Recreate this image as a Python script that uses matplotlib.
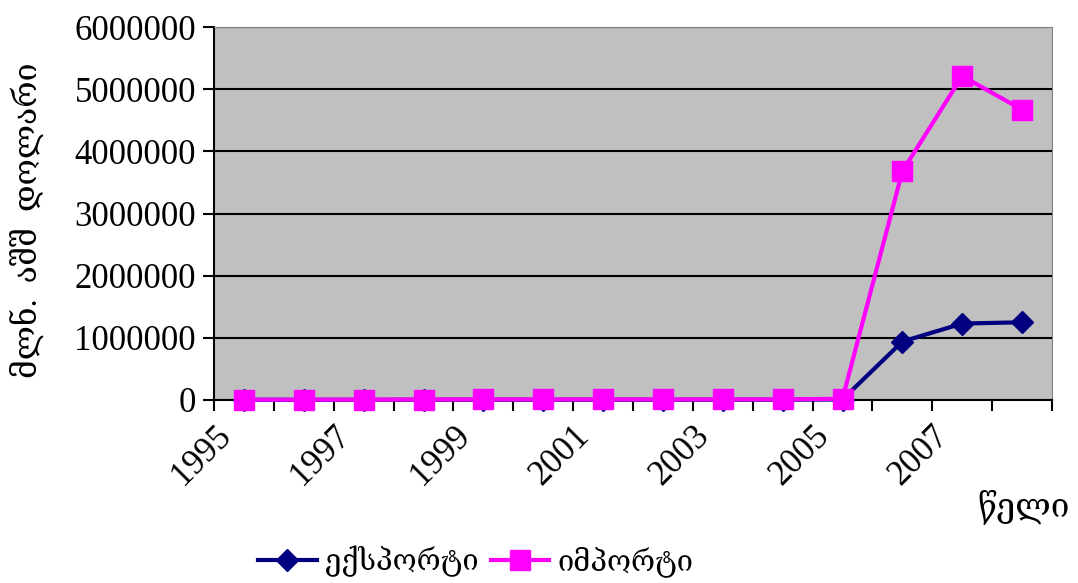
import matplotlib
matplotlib.use("Agg")
import matplotlib.pyplot as plt
import numpy as np

years = [1995, 1996, 1997, 1998, 1999, 2000, 2001, 2002, 2003, 2004, 2005, 2006, 2007, 2008]
export_vals = [3000, 3000, 3000, 4000, 4000, 4000, 4000, 4000, 4000, 5000, 8000, 940000, 1230000, 1250000]
import_vals = [5000, 5000, 6000, 8000, 9000, 9000, 9000, 9000, 9000, 10000, 20000, 3680000, 5210000, 4670000]
y_ticks = [0, 1000000, 2000000, 3000000, 4000000, 5000000, 6000000]

ylabel = "მლნ.  აშშ  დოლარი"
xlabel = "წელი"
names = ["ექსპორტი", "იმპორტი"]

fam = ["Liberation Serif", "DejaVu Serif", "DejaVu Sans"]
plt.rcParams["font.family"] = fam

fig = plt.figure(figsize=(10.78, 5.83), dpi=100)
ax = fig.add_axes([214 / 1078, 1 - 400 / 583, 838 / 1078, 373 / 583])
ax.set_facecolor("#C0C0C0")

x = np.arange(len(years))
ax.plot(x, export_vals, color="#000080", lw=3, marker="D", ms=11, label=names[0], zorder=3, clip_on=False)
ax.plot(x, import_vals, color="#FF00FF", lw=3, marker="s", ms=15, label=names[1], zorder=4, clip_on=False)

ax.set_xlim(-0.5, len(years) - 0.5)
ax.set_ylim(0, 6000000)
ax.set_yticks(y_ticks)
ax.set_yticklabels([str(v) for v in y_ticks], fontsize=25)
ax.yaxis.grid(True, color="black", lw=1.5)
ax.set_axisbelow(True)

bounds = np.arange(len(years) + 1) - 0.5
ax.set_xticks(bounds)
labels = [str(years[k]) if k < len(years) and k % 2 == 0 else "" for k in range(len(bounds))]
ax.set_xticklabels(labels, fontsize=25, rotation=45, ha="right", va="top", rotation_mode="anchor")
ax.tick_params(axis="both", direction="out", length=8, width=1.5, color="black")
ax.tick_params(axis="x", pad=6)
ax.tick_params(axis="y", pad=5)

for s in ["top", "right"]:
    ax.spines[s].set_color("#808080")
for s in ["left", "bottom"]:
    ax.spines[s].set_color("black")
    ax.spines[s].set_linewidth(1.5)

fig.text(27 / 1078, 1 - 220 / 583, ylabel, rotation=90, ha="center", va="center", fontsize=23)
fig.text(1024 / 1078, 1 - 507 / 583, xlabel, ha="center", va="center", fontsize=24)

fig.legend(loc="center", bbox_to_anchor=(476 / 1078, 1 - 561 / 583), ncol=2, frameon=False,
           fontsize=21, handlelength=2.0, handletextpad=0.3, columnspacing=0.4, borderpad=0)

fig.savefig("out.png", dpi=100)
